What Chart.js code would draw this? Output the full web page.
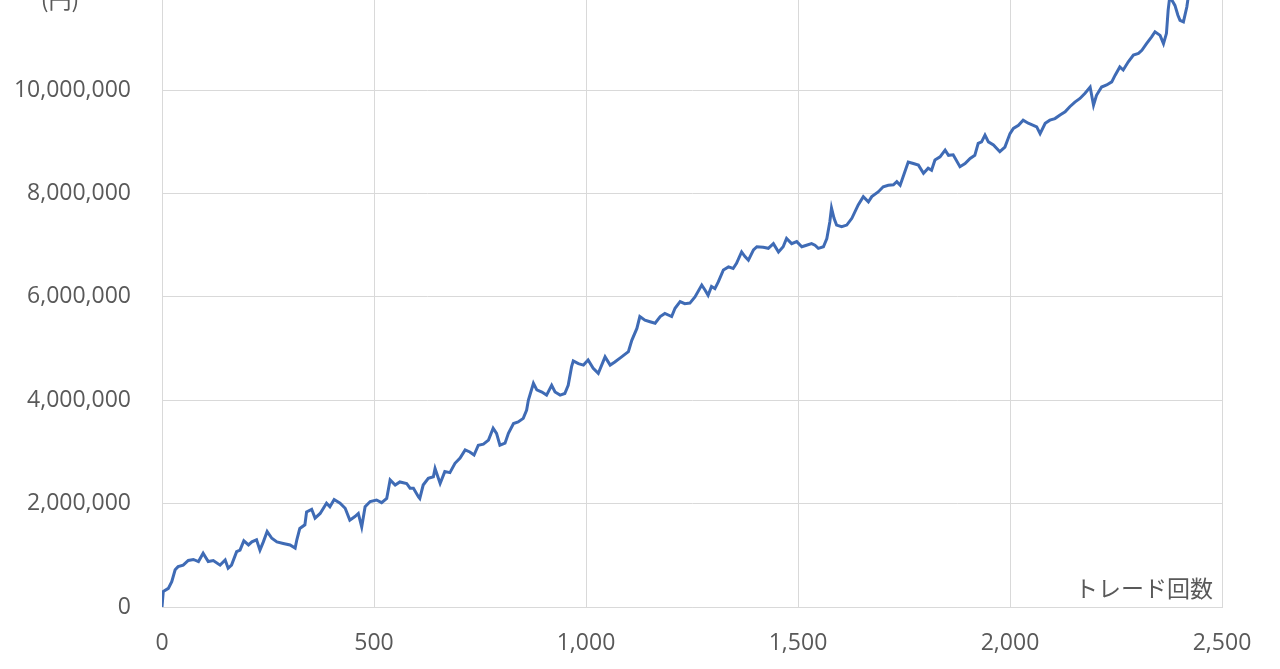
<!DOCTYPE html>
<html>
<head>
<meta charset="utf-8">
<script src="https://cdn.jsdelivr.net/npm/chart.js@4.4.1/dist/chart.umd.min.js"></script>
<style>
  html, body { margin: 0; padding: 0; background: #fff; overflow: hidden; }
  #wrap { position: absolute; left: 0; top: -58px; width: 1280px; height: 727px; }
</style>
</head>
<body>
<div id="wrap"><canvas id="equityChart"></canvas></div>
<script>
// trade count (x) and account balance in yen (y)
const trades = [
  0, 3, 15, 23, 31, 38, 50, 62, 74, 86, 97, 109, 121, 137, 149, 156, 164, 176, 184, 193,
  204, 212, 223, 231, 239, 248, 259, 271, 286, 302, 314, 318, 325, 337, 341, 353, 361, 373, 388, 396,
  406, 420, 432, 443, 455, 463, 471, 479, 491, 506, 518, 530, 538, 550, 561, 577, 585, 593, 605, 608,
  616, 628, 640, 644, 656, 667, 679, 691, 703, 715, 726, 736, 746, 758, 770, 781, 789, 797, 809, 817,
  829, 840, 852, 860, 864, 876, 884, 896, 907, 919, 927, 939, 950, 958, 966, 970, 982, 994, 1005, 1017,
  1029, 1045, 1057, 1068, 1084, 1100, 1108, 1120, 1127, 1139, 1151, 1163, 1175, 1186, 1202, 1210, 1222, 1233, 1245, 1257,
  1273, 1281, 1288, 1296, 1304, 1312, 1324, 1336, 1347, 1355, 1367, 1375, 1383, 1395, 1403, 1418, 1430, 1442, 1454, 1465,
  1473, 1485, 1497, 1509, 1520, 1532, 1540, 1548, 1560, 1568, 1575, 1579, 1585, 1591, 1603, 1615, 1627, 1642, 1654, 1666,
  1674, 1689, 1701, 1713, 1725, 1733, 1741, 1752, 1760, 1772, 1784, 1796, 1807, 1815, 1823, 1835, 1847, 1855, 1866, 1882,
  1894, 1906, 1917, 1925, 1933, 1941, 1949, 1961, 1976, 1988, 2000, 2008, 2020, 2031, 2043, 2055, 2063, 2071, 2083, 2094,
  2106, 2118, 2130, 2141, 2153, 2165, 2177, 2189, 2197, 2204, 2216, 2228, 2240, 2248, 2259, 2267, 2279, 2291, 2303, 2311,
  2322, 2334, 2342, 2354, 2362, 2369, 2373, 2377, 2382, 2389, 2396, 2401, 2409, 2417, 2420
];
const balance = [
  0, 300000, 360000, 490000, 720000, 780000, 810000, 900000, 920000, 880000, 1040000, 880000, 900000, 810000, 910000, 750000, 810000, 1070000, 1100000, 1280000,
  1200000, 1260000, 1300000, 1100000, 1260000, 1460000, 1330000, 1260000, 1230000, 1200000, 1140000, 1300000, 1520000, 1590000, 1840000, 1890000, 1720000, 1810000, 2010000, 1940000,
  2080000, 2010000, 1910000, 1680000, 1750000, 1810000, 1550000, 1940000, 2040000, 2070000, 2020000, 2100000, 2460000, 2360000, 2420000, 2390000, 2300000, 2300000, 2130000, 2100000,
  2360000, 2490000, 2520000, 2680000, 2390000, 2620000, 2600000, 2780000, 2880000, 3040000, 3000000, 2940000, 3130000, 3150000, 3230000, 3460000, 3360000, 3130000, 3170000, 3360000,
  3550000, 3580000, 3650000, 3810000, 4000000, 4330000, 4200000, 4160000, 4100000, 4290000, 4160000, 4100000, 4130000, 4290000, 4650000, 4760000, 4710000, 4680000, 4780000, 4620000,
  4520000, 4840000, 4680000, 4740000, 4840000, 4940000, 5160000, 5390000, 5620000, 5550000, 5520000, 5490000, 5620000, 5680000, 5620000, 5780000, 5910000, 5870000, 5880000, 6000000,
  6230000, 6130000, 6030000, 6200000, 6160000, 6290000, 6520000, 6580000, 6550000, 6650000, 6870000, 6780000, 6710000, 6910000, 6970000, 6960000, 6940000, 7030000, 6870000, 6970000,
  7130000, 7030000, 7070000, 6970000, 7000000, 7030000, 7000000, 6940000, 6970000, 7130000, 7450000, 7720000, 7520000, 7390000, 7360000, 7390000, 7520000, 7780000, 7940000, 7840000,
  7940000, 8030000, 8130000, 8160000, 8170000, 8230000, 8160000, 8420000, 8610000, 8580000, 8550000, 8390000, 8490000, 8450000, 8650000, 8710000, 8840000, 8740000, 8750000, 8520000,
  8580000, 8680000, 8740000, 8970000, 9000000, 9130000, 9000000, 8940000, 8810000, 8900000, 9160000, 9260000, 9320000, 9420000, 9360000, 9320000, 9290000, 9160000, 9360000, 9420000,
  9450000, 9520000, 9580000, 9680000, 9770000, 9840000, 9940000, 10060000, 9710000, 9900000, 10060000, 10100000, 10160000, 10290000, 10450000, 10390000, 10550000, 10680000, 10710000, 10770000,
  10900000, 11030000, 11130000, 11060000, 10900000, 11100000, 11550000, 11820000, 11740000, 11640000, 11450000, 11350000, 11320000, 11610000, 11780000
];
const xTicks = [0, 500, 1000, 1500, 2000, 2500];
const yTicks = [0, 2000000, 4000000, 6000000, 8000000, 10000000, 12000000];
const xTitle = 'トレード回数';
const yUnit = '(円)';

const gray = '#595959';
const gridColor = '#d9d9d9';
const tickFont = { family: "'Open Sans', 'Noto Sans', sans-serif", size: 23 };

const labelsPlugin = {
  id: 'axisLabels',
  afterDraw(chart) {
    const { ctx, chartArea } = chart;
    ctx.save();
    ctx.fillStyle = gray;
    ctx.font = "23px 'Noto Sans CJK JP', sans-serif";
    ctx.textAlign = 'right';
    ctx.textBaseline = 'middle';
    ctx.fillText(xTitle, chartArea.right - 9, chartArea.bottom - 19);
    ctx.textAlign = 'center';
    ctx.textBaseline = 'alphabetic';
    ctx.fillText(yUnit, 60, chartArea.top + 21);
    ctx.restore();
  }
};

const points = trades.map((t, i) => ({ x: t, y: balance[i] }));

new Chart(document.getElementById('equityChart').getContext('2d'), {
  type: 'line',
  data: {
    datasets: [{
      data: points,
      borderColor: '#3f6bb5',
      borderWidth: 3,
      pointRadius: 0,
      tension: 0,
      fill: false
    }]
  },
  options: {
    responsive: true,
    maintainAspectRatio: false,
    animation: false,
    layout: { padding: { top: 27, right: 58, left: 0, bottom: 0 } },
    plugins: {
      legend: { display: false },
      tooltip: { enabled: false }
    },
    scales: {
      x: {
        type: 'linear',
        min: 0,
        max: 2500,
        afterBuildTicks: scale => { scale.ticks = xTicks.map(v => ({ value: v })); },
        afterFit: scale => { scale.height = 62; },
        grid: { color: gridColor, lineWidth: 1, drawTicks: false },
        border: { color: gridColor },
        ticks: {
          color: gray,
          font: tickFont,
          padding: 23,
          maxRotation: 0,
          callback: v => v.toLocaleString('en-US')
        }
      },
      y: {
        min: 0,
        max: 12000000,
        afterBuildTicks: scale => { scale.ticks = yTicks.map(v => ({ value: v })); },
        afterFit: scale => { scale.width = 162; },
        grid: { color: gridColor, lineWidth: 1, drawTicks: false },
        border: { color: gridColor },
        ticks: {
          color: gray,
          font: tickFont,
          padding: 31,
          callback: v => v.toLocaleString('en-US')
        }
      }
    }
  },
  plugins: [labelsPlugin]
});
</script>
</body>
</html>
